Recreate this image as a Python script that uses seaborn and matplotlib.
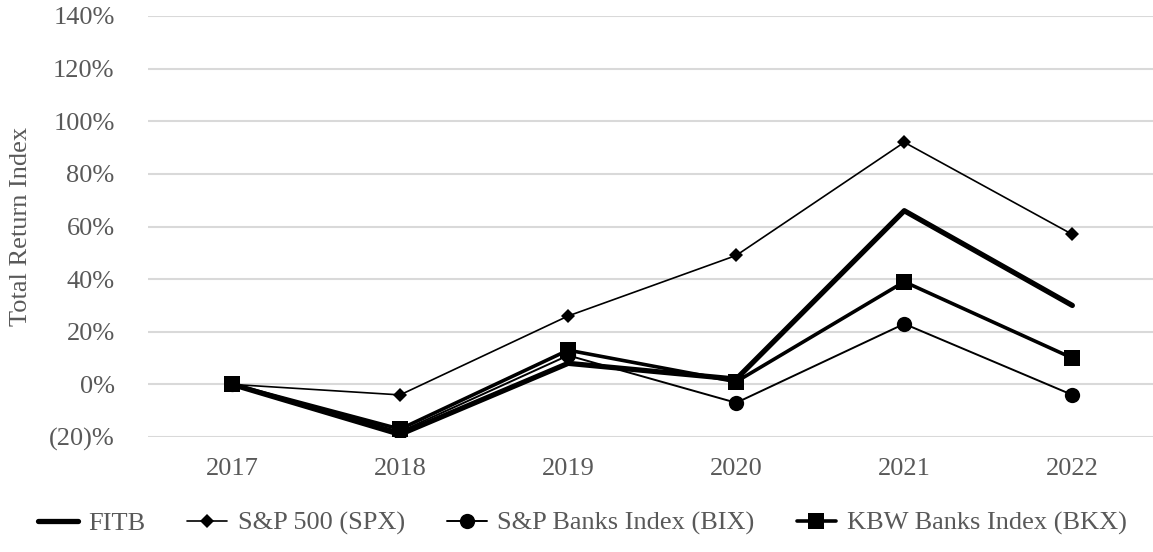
import matplotlib
matplotlib.use("Agg")
import matplotlib.pyplot as plt
from matplotlib.ticker import FuncFormatter, MultipleLocator
import seaborn as sns
import pandas as pd

# data
years = ["2017", "2018", "2019", "2020", "2021", "2022"]
fitb = [0, -19, 8, 2, 66, 30]
spx = [0, -4, 26, 49, 92, 57]
bix = [0, -18, 11, -7, 23, -4]
bkx = [0, -17, 13, 1, 39, 10]

series_names = ["FITB", "S&P 500 (SPX)", "S&P Banks Index (BIX)", "KBW Banks Index (BKX)"]

sns.set_style("white")
plt.rcParams['font.family'] = ['Liberation Serif', 'DejaVu Serif']

df = pd.DataFrame({
    "year": years * 4,
    "value": fitb + spx + bix + bkx,
    "series": sum([[n] * len(years) for n in series_names], []),
})

fig = plt.figure(figsize=(11.53, 5.52), dpi=100)
ax = fig.add_axes([148 / 1153, 115 / 552, 1005 / 1153, 421 / 552])

# style per series: line width, marker, marker size
styles = {
    "FITB": (3.8, None, 0),
    "S&P 500 (SPX)": (1.2, "D", 7),
    "S&P Banks Index (BIX)": (1.4, "o", 11),
    "KBW Banks Index (BKX)": (2.6, "s", 12),
}

for name in ["S&P Banks Index (BIX)", "S&P 500 (SPX)", "KBW Banks Index (BKX)", "FITB"]:
    lw, mk, ms = styles[name]
    sub = df[df["series"] == name]
    sns.lineplot(data=sub, x="year", y="value", ax=ax, color="black", linewidth=lw,
                 marker=mk, markersize=ms, markeredgewidth=0, label=name, legend=False)

ax.set_ylim(-20, 140)
ax.set_xlim(-0.5, 5.48)
ax.yaxis.set_major_locator(MultipleLocator(20))
ax.yaxis.set_major_formatter(FuncFormatter(lambda v, p: f"({abs(v):.0f})%" if v < 0 else f"{v:.0f}%"))
ax.grid(axis="y", color="#d9d9d9", linewidth=1.5)
ax.set_axisbelow(True)
for s in ax.spines.values():
    s.set_visible(False)
ax.tick_params(axis="both", length=0, labelsize=19, labelcolor="#595959")
ax.tick_params(axis="y", pad=24)
ax.tick_params(axis="x", pad=15)
ax.set_xlabel("")
ax.set_ylabel("Total Return Index", fontsize=19, color="#595959")
ax.yaxis.set_label_coords(-0.115, 0.5)

handles, labels = ax.get_legend_handles_labels()
order = [labels.index(n) for n in series_names]
fig.legend([handles[i] for i in order], [labels[i] for i in order],
           loc="center", bbox_to_anchor=(0.505, 0.052), ncol=4, frameon=False,
           fontsize=19, labelcolor="#595959", handlelength=1.5, handletextpad=0.4,
           columnspacing=1.6)

fig.savefig("out.png", dpi=100)
